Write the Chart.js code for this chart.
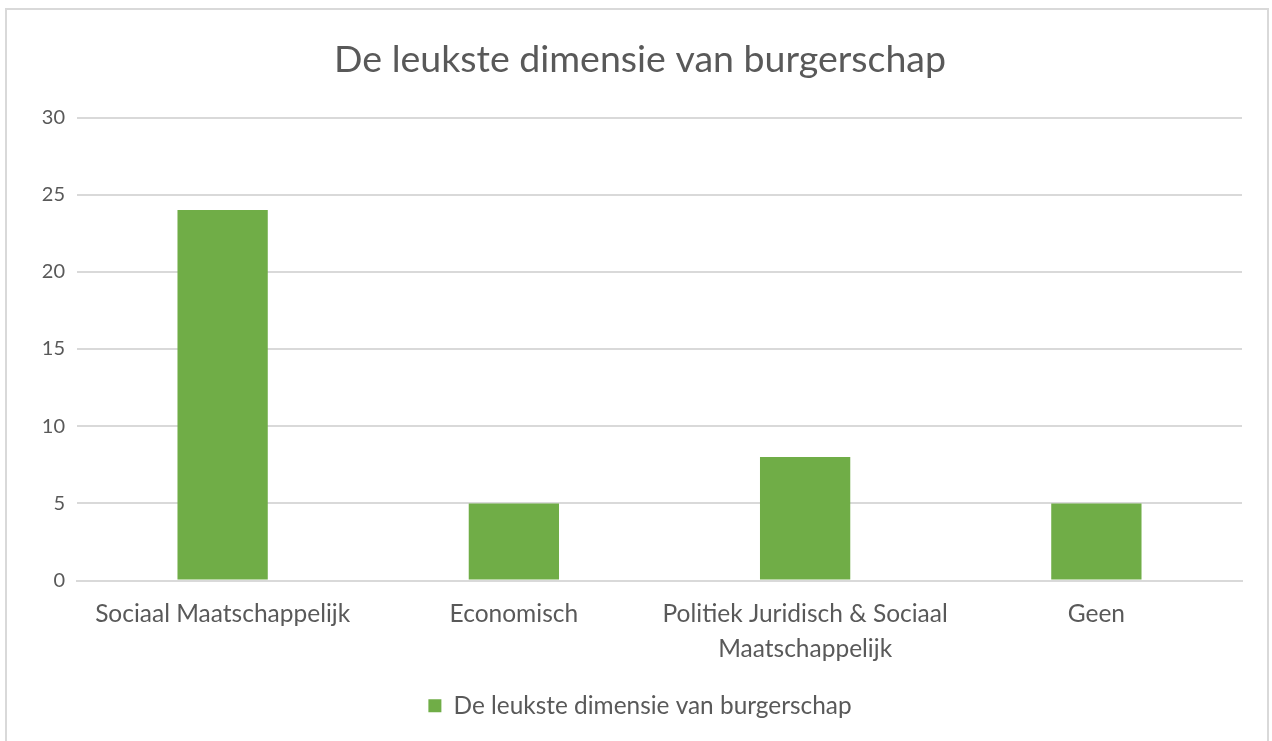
<!DOCTYPE html>
<html>
<head>
<meta charset="utf-8">
<script src="https://cdn.jsdelivr.net/npm/chart.js@4"></script>
<style>
  html, body { margin: 0; padding: 0; background: #fff; }
  #wrap { position: relative; width: 1272px; height: 741px; }
  #frame {
    position: absolute; left: 5px; top: 8px; width: 1264px; height: 740px;
    border: 2px solid #d9d9d9; box-sizing: border-box; pointer-events: none;
  }
</style>
</head>
<body>
<div id="wrap">
  <canvas id="chart" width="1272" height="741"></canvas>
  <div id="frame"></div>
</div>
<script>
// Chart data
const categories = [
  "Sociaal Maatschappelijk",
  "Economisch",
  ["Politiek Juridisch & Sociaal", "Maatschappelijk"],
  "Geen"
];
const values = [24, 5, 8, 5];
const seriesName = "De leukste dimensie van burgerschap";
const yTicks = [0, 5, 10, 15, 20, 25, 30];

const textColor = "#595959";
const gridColor = "#d9d9d9";
const fontFamily = "Lato, 'Open Sans', sans-serif";

new Chart(document.getElementById("chart"), {
  type: "bar",
  data: {
    labels: categories,
    datasets: [{
      label: seriesName,
      data: values,
      backgroundColor: "#70ad47",
      categoryPercentage: 1,
      barPercentage: 0.31,
    }],
  },
  options: {
    responsive: false,
    animation: false,
    layout: { padding: { top: 20, right: 0, bottom: 13, left: 8 } },
    plugins: {
      title: {
        display: true,
        text: seriesName,
        color: textColor,
        font: { family: fontFamily, size: 37.5, weight: "normal" },
        padding: { top: 17, bottom: 35.5 },
      },
      legend: {
        position: "bottom",
        labels: {
          color: textColor,
          font: { family: fontFamily, size: 24.4 },
          boxWidth: 13,
          boxHeight: 13,
          padding: 11,
        },
      },
      tooltip: { enabled: false },
    },
    scales: {
      x: {
        grid: { display: false, drawTicks: false },
        border: { color: gridColor, width: 2 },
        ticks: {
          color: textColor,
          font: { family: fontFamily, size: 24.5, lineHeight: 1.388 },
          padding: 17,
          maxRotation: 0,
          autoSkip: false,
        },
      },
      y: {
        min: 0,
        max: 30,
        afterFit: (scale) => { scale.width = 69; },
        afterBuildTicks: (scale) => { scale.ticks = yTicks.map(v => ({ value: v })); },
        grid: { color: gridColor, lineWidth: 2, drawTicks: false },
        border: { display: false },
        ticks: {
          color: textColor,
          font: { family: fontFamily, size: 20 },
          padding: 12,
        },
      },
      // empty right-hand axis only reserves the margin right of the plot
      yRight: {
        position: "right",
        min: 0,
        max: 30,
        afterFit: (scale) => { scale.width = 30; },
        grid: { display: false, drawTicks: false },
        border: { display: false },
        ticks: { display: false },
      },
    },
  },
});
</script>
</body>
</html>
